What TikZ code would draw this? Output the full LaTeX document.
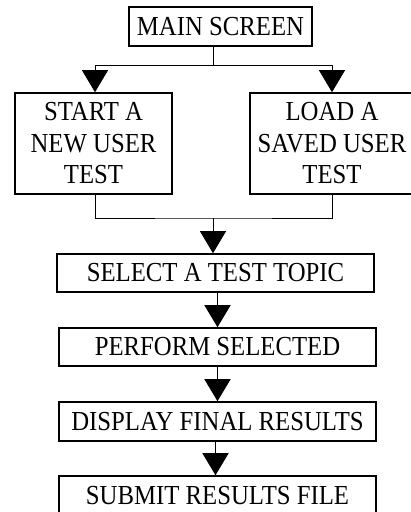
\documentclass[tikz,border=0pt]{standalone}
\usepackage{fontspec}
\setmainfont{Liberation Serif}[FakeStretch=0.9]
\usetikzlibrary{arrows.meta}
\tikzset{
  box/.style={draw=black, line width=1.6pt, inner sep=0pt, align=center,
    font=\fontsize{27.5}{31.5}\selectfont},
  thinline/.style={line width=0.8pt},
  medline/.style={line width=1.5pt},
  tri/.style={-{Triangle[width=26pt,length=22pt]}}
}
\begin{document}
\begin{tikzpicture}[x=1pt,y=-1pt]
\path[use as bounding box] (0,0) rectangle (411,512);
\clip (0,0) rectangle (411,512);
\fill[white] (0,0) rectangle (411,512);
\node[box, minimum width=183pt, minimum height=39pt] (main) at (220.5,26.5) {MAIN SCREEN};
\node[box, minimum width=157pt, minimum height=101pt] (start) at (93.5,143.5) {START A\\NEW USER\\TEST};
\node[box, minimum width=164pt, minimum height=101pt] (load) at (332,143.5) {LOAD A\\SAVED USER\\TEST};
\node[box, minimum width=317pt, minimum height=38pt] (select) at (215.5,273) {SELECT A TEST TOPIC};
\node[box, minimum width=317pt, minimum height=38pt] (perform) at (217.5,347) {PERFORM SELECTED};
\node[box, minimum width=317pt, minimum height=39pt] (display) at (217.5,421.5) {DISPLAY FINAL RESULTS};
\node[box, minimum width=317pt, minimum height=39pt] (submit) at (217.5,495.5) {SUBMIT RESULTS FILE};
\coordinate (split) at (213,65);
\coordinate (merge) at (213,218);
\draw[thinline] (main.south -| split) -- (split);
\draw[thinline, tri] (split) -| ([xshift=1.5pt]start.north);
\draw[thinline, tri] (split) -| (load.north);
\draw[thinline] ([xshift=1.5pt]start.south) |- (merge) -| (load.south);
\draw[thinline, tri] (merge) -- (select.north -| merge);
\draw[medline, tri] (select.south -| perform.north) -- (perform.north);
\draw[medline, tri] (perform.north |- perform.south) -- (display.north);
\draw[medline, tri] ([xshift=-2pt]display.south) -- ([xshift=-2pt]submit.north);
\end{tikzpicture}
\end{document}
